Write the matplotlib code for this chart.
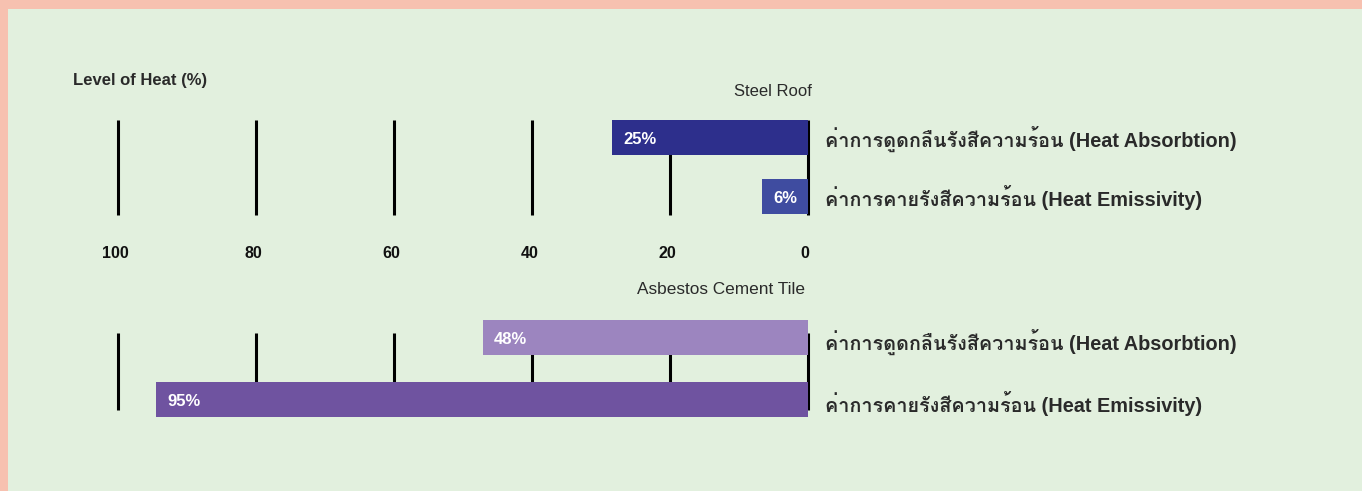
import matplotlib
matplotlib.use("Agg")
import matplotlib.pyplot as plt
import matplotlib.transforms as mtransforms
from matplotlib import font_manager, ft2font
from matplotlib.patches import Rectangle

# data
ticks = [100, 80, 60, 40, 20, 0]
row_labels = ["ค่าการดูดกลืนรังสีความร้อน (Heat Absorbtion)",
              "ค่าการคายรังสีความร้อน (Heat Emissivity)"]
steel_lengths = [28.4, 6.7]          # drawn bar lengths
steel_labels = ["25%", "6%"]
asbestos_lengths = [47.1, 94.5]
asbestos_labels = ["48%", "95%"]

steel_colors = ["#2d2f8c", "#3f4ca0"]
asbestos_colors = ["#9c85bf", "#6f53a0"]
bg = "#e2f0de"
border = "#f7c1b0"
text_col = "#2a2a2a"

# find something that can draw Thai
thai_family = None
for f in font_manager.fontManager.ttflist:
    try:
        if 0x0E04 in ft2font.FT2Font(f.fname).get_charmap():
            thai_family = f.name
            break
    except Exception:
        pass
fams = ["Liberation Sans", "DejaVu Sans"]
if thai_family:
    fams.insert(1, thai_family)
plt.rcParams['font.family'] = fams

W, H = 1362, 491
fig = plt.figure(figsize=(W / 100, H / 100), dpi=100)
fig.patch.set_facecolor(border)
fig.patches.append(Rectangle((8 / W, 0), 1, 1 - 9 / H, transform=fig.transFigure,
                             facecolor=bg, edgecolor="none", zorder=-5))


def make_axes(top_px, bot_px, y0_px, step_px):
    ax = fig.add_axes([118 / W, 1 - bot_px / H, 690 / W, (bot_px - top_px) / H])
    ax.set_xlim(100, 0)
    ax.set_ylim((bot_px - y0_px) / step_px, (top_px - y0_px) / step_px)
    ax.patch.set_visible(False)
    for s in ax.spines.values():
        s.set_visible(False)
    ax.set_yticks([])
    return ax


def draw_panel(ax, lengths, labels, colors, grid_lo, grid_hi, height, label_shift):
    ax.vlines(ticks, grid_lo, grid_hi, color="black", lw=2.2, zorder=1, clip_on=False)
    ys = range(len(lengths))
    ax.barh(ys, lengths, height=height, color=colors, zorder=2)
    for y, v, lab in zip(ys, lengths, labels):
        ax.annotate(lab, xy=(v, y), xytext=(8, -1.5), textcoords="offset points",
                    ha="left", va="center", color="white", fontsize=12,
                    fontweight="bold", zorder=3)
    for y, lab in zip(ys, row_labels):
        ax.annotate(lab, xy=(0, y), xytext=(12, -label_shift), textcoords="offset points",
                    ha="left", va="center", color=text_col, fontsize=14.3,
                    fontweight="bold", annotation_clip=False)


top = make_axes(100, 235, 137.5, 59)
draw_panel(top, steel_lengths, steel_labels, steel_colors, -0.297, 1.314, 0.593, 1)
top.set_xticks(ticks)
top.set_xticklabels([str(t) for t in ticks], fontsize=11.5, color="#111111",
                    fontweight="bold")
top.tick_params(axis="x", length=0, pad=8)
# tick labels sit a little left of their lines in the original
shift = mtransforms.ScaledTranslation(-2 / 72, 0, fig.dpi_scale_trans)
for lab in top.get_xticklabels():
    lab.set_transform(lab.get_transform() + shift)

bot = make_axes(300, 430, 337.5, 62)
draw_panel(bot, asbestos_lengths, asbestos_labels, asbestos_colors, -0.073, 1.169, 0.58, 3)
bot.set_xticks([])

fig.text(73 / W, 1 - 80 / H, "Level of Heat (%)", ha="left", va="center",
         fontsize=12, fontweight="bold", color=text_col)
fig.text(812 / W, 1 - 91 / H, "Steel Roof", ha="right", va="center",
         fontsize=12, color=text_col)
fig.text(805 / W, 1 - 289 / H, "Asbestos Cement Tile", ha="right", va="center",
         fontsize=12.4, color=text_col)

fig.savefig("out.png", dpi=100, facecolor=fig.get_facecolor())
